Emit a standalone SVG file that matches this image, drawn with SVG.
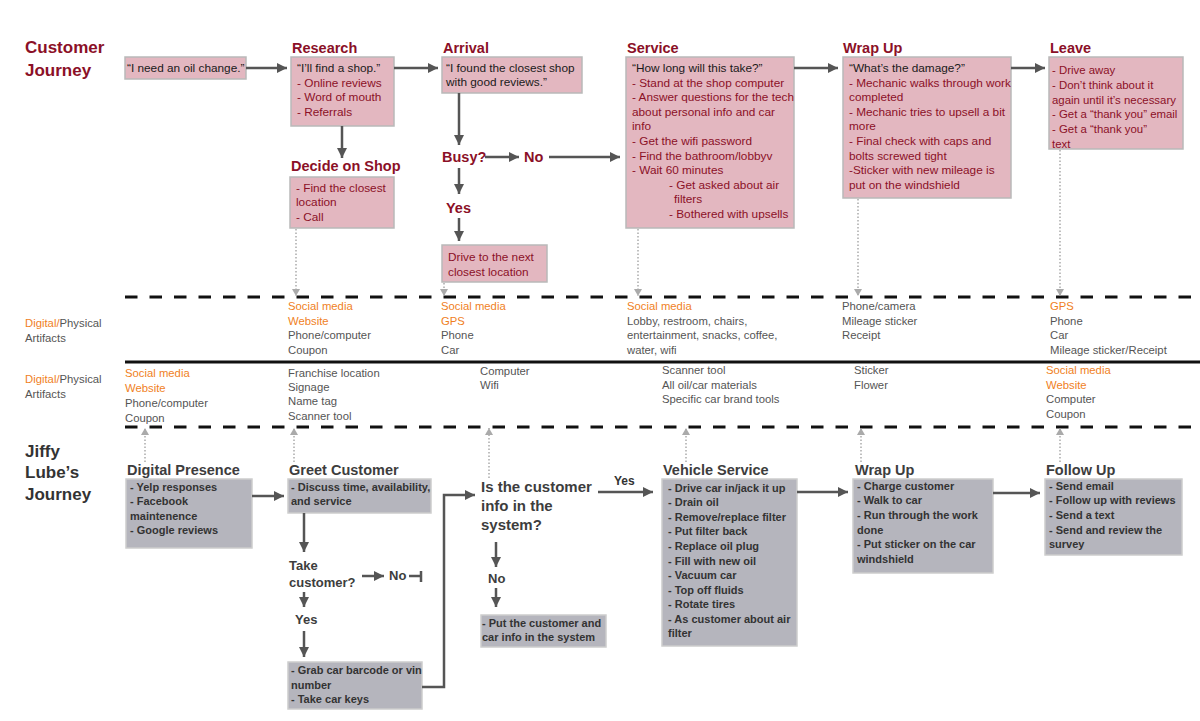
<svg xmlns="http://www.w3.org/2000/svg" width="1200" height="721" viewBox="0 0 1200 721">
<style>
text{font-family:"Liberation Sans",Arial,sans-serif}
.ttl{font-size:17px;font-weight:bold;fill:#8b1027}
.h{font-size:14.5px;font-weight:bold;fill:#8b1027}
.pb{fill:#e3b7c0;stroke:#b9b9b9;stroke-width:1.5}
.t{font-size:11.8px;fill:#8b1027}
.q{fill:#1a1a1a}
.a{font-size:11.3px;fill:#555}
.o{fill:#f07f1e}
.gb{fill:#b5b5bd;stroke:#cdcdcd;stroke-width:1.5}
.gh{font-size:14.5px;font-weight:bold;fill:#3d3d3d}
.gt{font-size:11px;font-weight:bold;fill:#333}
.gq{font-size:15px;font-weight:bold;fill:#3d3d3d}
.gs{font-size:13px;font-weight:bold;fill:#3d3d3d}
.jt{font-size:17px;font-weight:bold;fill:#333}
.ar{fill:none;stroke:#555;stroke-width:2.5;marker-end:url(#ah)}
.ln{fill:none;stroke:#555;stroke-width:2.5}
.dt{fill:none;stroke:#aaa;stroke-width:1.5;stroke-dasharray:1.5 2;marker-end:url(#dh)}
.dash{stroke:#111;stroke-width:3;stroke-dasharray:12.5 12}
</style>
<defs>
<marker id="ah" markerUnits="userSpaceOnUse" markerWidth="10" markerHeight="10" refX="10" refY="5" orient="auto"><path d="M0,0 L10,5 L0,10 z" fill="#555"/></marker>
<marker id="dh" markerUnits="userSpaceOnUse" markerWidth="9" markerHeight="8" refX="7" refY="4" orient="auto"><path d="M0,0 L7,4 L0,8 z" fill="#aaa"/></marker>
</defs>
<rect width="1200" height="721" fill="#fff"/>

<g id="lanes">
<line x1="125" y1="297" x2="1200" y2="297" class="dash"/>
<line x1="125" y1="362" x2="1200" y2="362" stroke="#111" stroke-width="3"/>
<line x1="125" y1="427" x2="1200" y2="427" class="dash"/>
</g>

<g id="titles">
<text class="ttl" x="25" y="53">Customer</text>
<text class="ttl" x="25" y="76">Journey</text>
<text class="jt" x="25" y="457">Jiffy</text>
<text class="jt" x="25" y="478">Lube’s</text>
<text class="jt" x="25" y="500">Journey</text>
</g>

<g id="need">
<rect class="pb" x="125" y="57" width="121" height="22"/>
<text class="t q" x="127" y="72">“I need an oil change.”</text>
</g>
<g id="research">
<text class="h" x="292" y="53">Research</text>
<rect class="pb" x="291" y="57" width="103" height="69"/>
<text class="t" x="297"><tspan class="q" x="297" y="72">“I’ll find a shop.”</tspan><tspan x="297" y="87">- Online reviews</tspan><tspan x="297" y="101">- Word of mouth</tspan><tspan x="297" y="116">- Referrals</tspan></text>
</g>
<g id="decide">
<text class="h" x="291" y="171">Decide on Shop</text>
<rect class="pb" x="290" y="177" width="104" height="51"/>
<text class="t"><tspan x="296" y="192">- Find the closest</tspan><tspan x="296" y="206">location</tspan><tspan x="296" y="221">- Call</tspan></text>
</g>
<g id="arrival">
<text class="h" x="443" y="53">Arrival</text>
<rect class="pb" x="442" y="57" width="140" height="36"/>
<text class="t q"><tspan x="446" y="72">“I found the closest shop</tspan><tspan x="446" y="86">with good reviews.”</tspan></text>
</g>
<g id="busy">
<text class="h" x="442" y="162">Busy?</text>
<text class="h" x="524" y="162">No</text>
<text class="h" x="446" y="213">Yes</text>
</g>
<g id="drive">
<rect class="pb" x="442" y="245" width="105" height="37"/>
<text class="t"><tspan x="448" y="261">Drive to the next</tspan><tspan x="448" y="276">closest location</tspan></text>
</g>
<g id="service">
<text class="h" x="627" y="53">Service</text>
<rect class="pb" x="626" y="57" width="168" height="171"/>
<text class="t"><tspan class="q" x="632" y="72">“How long will this take?”</tspan><tspan x="632" y="87">- Stand at the shop computer</tspan><tspan x="632" y="101">- Answer questions for the tech</tspan><tspan x="632" y="116">about personal info and car</tspan><tspan x="632" y="130">info</tspan><tspan x="632" y="145">- Get the wifi password</tspan><tspan x="632" y="160">- Find the bathroom/lobbyv</tspan><tspan x="632" y="174">- Wait 60 minutes</tspan><tspan x="669" y="189">- Get asked about air</tspan><tspan x="674" y="203">filters</tspan><tspan x="669" y="218">- Bothered with upsells</tspan></text>
</g>
<g id="wrapup">
<text class="h" x="843" y="53">Wrap Up</text>
<rect class="pb" x="843" y="57" width="168" height="141"/>
<text class="t"><tspan class="q" x="849" y="72">“What’s the damage?”</tspan><tspan x="849" y="87">- Mechanic walks through work</tspan><tspan x="849" y="101">completed</tspan><tspan x="849" y="116">- Mechanic tries to upsell a bit</tspan><tspan x="849" y="130">more</tspan><tspan x="849" y="145">- Final check with caps and</tspan><tspan x="849" y="160">bolts screwed tight</tspan><tspan x="849" y="174">-Sticker with new mileage is</tspan><tspan x="849" y="189">put on the windshield</tspan></text>
</g>
<g id="leave">
<text class="h" x="1050" y="53">Leave</text>
<rect class="pb" x="1049" y="57" width="134" height="92"/>
<text class="t" style="font-size:11.4px"><tspan x="1052" y="74">- Drive away</tspan><tspan x="1052" y="89">- Don’t think about it</tspan><tspan x="1052" y="104">again until it’s necessary</tspan><tspan x="1052" y="118">- Get a  “thank you” email</tspan><tspan x="1052" y="133">- Get a “thank you”</tspan><tspan x="1052" y="148">text</tspan></text>
</g>

<g id="artifacts-customer">
<text class="a" x="25" y="327"><tspan class="o">Digital/</tspan>Physical</text>
<text class="a" x="25" y="342">Artifacts</text>
<text class="a"><tspan class="o" x="288" y="310">Social media</tspan><tspan class="o" x="288" y="325">Website</tspan><tspan x="288" y="339">Phone/computer</tspan><tspan x="288" y="354">Coupon</tspan></text>
<text class="a"><tspan class="o" x="441" y="310">Social media</tspan><tspan class="o" x="441" y="325">GPS</tspan><tspan x="441" y="339">Phone</tspan><tspan x="441" y="354">Car</tspan></text>
<text class="a"><tspan class="o" x="627" y="310">Social media</tspan><tspan x="627" y="325">Lobby, restroom, chairs,</tspan><tspan x="627" y="339">entertainment, snacks, coffee,</tspan><tspan x="627" y="354">water, wifi</tspan></text>
<text class="a"><tspan x="842" y="310">Phone/camera</tspan><tspan x="842" y="325">Mileage sticker</tspan><tspan x="842" y="339">Receipt</tspan></text>
<text class="a"><tspan class="o" x="1050" y="310">GPS</tspan><tspan x="1050" y="325">Phone</tspan><tspan x="1050" y="339">Car</tspan><tspan x="1050" y="354">Mileage sticker/Receipt</tspan></text>
</g>
<g id="artifacts-jiffy">
<text class="a" x="25" y="383"><tspan class="o">Digital/</tspan>Physical</text>
<text class="a" x="25" y="398">Artifacts</text>
<text class="a"><tspan class="o" x="125" y="377">Social media</tspan><tspan class="o" x="125" y="392">Website</tspan><tspan x="125" y="407">Phone/computer</tspan><tspan x="125" y="422">Coupon</tspan></text>
<text class="a"><tspan x="288" y="377">Franchise location</tspan><tspan x="288" y="391">Signage</tspan><tspan x="288" y="405">Name tag</tspan><tspan x="288" y="420">Scanner tool</tspan></text>
<text class="a"><tspan x="480" y="375">Computer</tspan><tspan x="480" y="389">Wifi</tspan></text>
<text class="a"><tspan x="662" y="374">Scanner tool</tspan><tspan x="662" y="389">All oil/car materials</tspan><tspan x="662" y="403">Specific car brand tools</tspan></text>
<text class="a"><tspan x="854" y="374">Sticker</tspan><tspan x="854" y="389">Flower</tspan></text>
<text class="a"><tspan class="o" x="1046" y="374">Social media</tspan><tspan class="o" x="1046" y="389">Website</tspan><tspan x="1046" y="403">Computer</tspan><tspan x="1046" y="418">Coupon</tspan></text>
</g>

<g id="digital">
<text class="gh" x="127" y="475">Digital Presence</text>
<rect class="gb" x="126" y="479" width="126" height="69"/>
<text class="gt"><tspan x="130" y="491">- Yelp responses</tspan><tspan x="130" y="505">- Facebook</tspan><tspan x="130" y="520">maintenence</tspan><tspan x="130" y="534">- Google reviews</tspan></text>
</g>
<g id="greet">
<text class="gh" x="289" y="475">Greet Customer</text>
<rect class="gb" x="288" y="479" width="143" height="34"/>
<text class="gt"><tspan x="291" y="491">- Discuss time, availability,</tspan><tspan x="291" y="505">and service</tspan></text>
</g>
<g id="take">
<text class="gs" x="289" y="570">Take</text>
<text class="gs" x="289" y="587">customer?</text>
<text class="gs" x="389" y="580">No</text>
<text class="gs" x="295" y="624">Yes</text>
</g>
<g id="grab">
<rect class="gb" x="288" y="662" width="134" height="47"/>
<text class="gt"><tspan x="291" y="674">- Grab car barcode or vin</tspan><tspan x="291" y="689">number</tspan><tspan x="291" y="703">- Take car keys</tspan></text>
</g>
<g id="insystem">
<text class="gq"><tspan x="481" y="492">Is the customer</tspan><tspan x="481" y="511">info in the</tspan><tspan x="481" y="530">system?</tspan></text>
<text class="gt" x="614" y="485" style="font-size:12px">Yes</text>
<text class="gs" x="488" y="583">No</text>
</g>
<g id="putinfo">
<rect class="gb" x="481" y="615" width="125" height="32"/>
<text class="gt"><tspan x="482" y="627">- Put the customer and</tspan><tspan x="482" y="641">car info in the system</tspan></text>
</g>
<g id="vehicle">
<text class="gh" x="663" y="475">Vehicle Service</text>
<rect class="gb" x="662" y="479" width="135" height="167"/>
<text class="gt"><tspan x="668" y="492">- Drive car in/jack it up</tspan><tspan x="668" y="506">- Drain oil</tspan><tspan x="668" y="521">- Remove/replace filter</tspan><tspan x="668" y="535">- Put filter back</tspan><tspan x="668" y="550">- Replace oil plug</tspan><tspan x="668" y="565">- Fill with new oil</tspan><tspan x="668" y="579">- Vacuum car</tspan><tspan x="668" y="594">- Top off fluids</tspan><tspan x="668" y="608">- Rotate tires</tspan><tspan x="668" y="623">- As customer about air</tspan><tspan x="668" y="637">filter</tspan></text>
</g>
<g id="jwrap">
<text class="gh" x="855" y="475">Wrap Up</text>
<rect class="gb" x="853" y="479" width="140" height="94"/>
<text class="gt"><tspan x="857" y="490">- Charge customer</tspan><tspan x="857" y="504">- Walk to car</tspan><tspan x="857" y="519">- Run through the work</tspan><tspan x="857" y="534">done</tspan><tspan x="857" y="548">- Put sticker on the car</tspan><tspan x="857" y="563">windshield</tspan></text>
</g>
<g id="follow">
<text class="gh" x="1046" y="475">Follow Up</text>
<rect class="gb" x="1045" y="479" width="137" height="76"/>
<text class="gt"><tspan x="1049" y="490">- Send email</tspan><tspan x="1049" y="504">- Follow up with reviews</tspan><tspan x="1049" y="519">- Send a text</tspan><tspan x="1049" y="534">- Send and review the</tspan><tspan x="1049" y="548">survey</tspan></text>
</g>

<g id="connectors">
<path class="ar" d="M246,68 H287"/>
<path class="ar" d="M394,68 H438"/>
<path class="ar" d="M342,126 V158"/>
<path class="ar" d="M459,93 V145"/>
<path class="ar" d="M485,157 H519"/>
<path class="ar" d="M549,157 H620"/>
<path class="ar" d="M459,168 V194"/>
<path class="ar" d="M459,218 V241"/>
<path class="ar" d="M794,68 H838"/>
<path class="ar" d="M1011,68 H1045"/>
<path class="dt" d="M296,229 V296"/>
<path class="dt" d="M444,283 V296"/>
<path class="dt" d="M638,229 V296"/>
<path class="dt" d="M858,199 V296"/>
<path class="dt" d="M1060,150 V296"/>
<path class="dt" d="M145,462 V428"/>
<path class="dt" d="M294,462 V428"/>
<path class="dt" d="M489,478 V428"/>
<path class="dt" d="M686,462 V428"/>
<path class="dt" d="M861,462 V428"/>
<path class="dt" d="M1060,462 V428"/>
<path class="ar" d="M252,496 H284"/>
<path class="ar" d="M304,513 V552"/>
<path class="ar" d="M362,576 H384"/>
<path class="ln" d="M409,576 H421 M421,571 V582"/>
<path class="ar" d="M304,592 V607"/>
<path class="ar" d="M304,631 V657"/>
<path class="ar" d="M422,687 H444 V495 H475"/>
<path class="ar" d="M598,492 H653"/>
<path class="ar" d="M496,542 V567"/>
<path class="ar" d="M496,588 V607"/>
<path class="ar" d="M797,492 H848"/>
<path class="ar" d="M993,493 H1040"/>
</g>
</svg>
